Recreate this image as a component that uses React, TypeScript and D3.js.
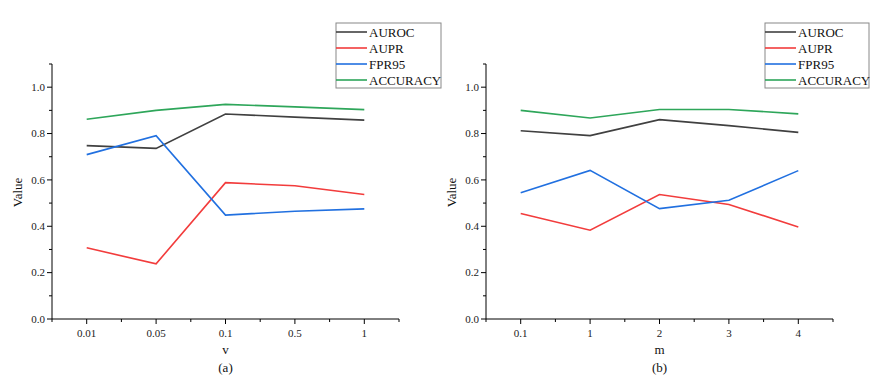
import React from 'react';
import * as d3 from 'd3';

// chart values
const vCategories = ['0.01', '0.05', '0.1', '0.5', '1'];
const vAUROC = [0.748, 0.736, 0.884, 0.871, 0.858];
const vAUPR = [0.307, 0.238, 0.588, 0.575, 0.537];
const vFPR95 = [0.709, 0.791, 0.448, 0.465, 0.475];
const vACCURACY = [0.862, 0.9, 0.926, 0.915, 0.903];

const mCategories = ['0.1', '1', '2', '3', '4'];
const mAUROC = [0.812, 0.791, 0.86, 0.834, 0.805];
const mAUPR = [0.455, 0.383, 0.537, 0.494, 0.397];
const mFPR95 = [0.545, 0.641, 0.476, 0.512, 0.64];
const mACCURACY = [0.9, 0.867, 0.904, 0.904, 0.885];

const seriesNames = ['AUROC', 'AUPR', 'FPR95', 'ACCURACY'];
const seriesColors = ['#404040', '#f23c3c', '#2170e0', '#2ea65a'];
const yTicks = [0, 0.2, 0.4, 0.6, 0.8, 1.0];
const yMinorTicks = [0.1, 0.3, 0.5, 0.7, 0.9, 1.1];

const FONT = '"Liberation Serif", "Times New Roman", serif';

type PanelProps = {
  left: number;
  right: number;
  categories: string[];
  series: number[][];
  xLabel: string;
  caption: string;
  legendX: number;
  legendW: number;
};

const Panel = ({ left, right, categories, series, xLabel, caption, legendX, legendW }: PanelProps) => {
  const top = 64;
  const bottom = 319;

  const x = d3.scaleBand().domain(categories).range([left, right]).paddingInner(0).paddingOuter(0);
  const y = d3.scaleLinear().domain([0, 1.1]).range([bottom, top]);
  const cx = (c: string) => (x(c) ?? 0) + x.bandwidth() / 2;

  const line = d3.line<number>()
    .x((_, i) => cx(categories[i]))
    .y(d => y(d));

  const minorX = d3.range(categories.length + 1).map(i => left + i * x.bandwidth());
  const midX = (left + right) / 2;

  return (
    <g>
      {/* axes */}
      <line x1={left} x2={left} y1={top} y2={bottom} stroke="#000" strokeWidth={1} />
      <line x1={left} x2={right} y1={bottom} y2={bottom} stroke="#000" strokeWidth={1} />

      {yTicks.map(t => (
        <g key={'y' + t}>
          <line x1={left - 5} x2={left} y1={y(t)} y2={y(t)} stroke="#000" />
          <text x={left - 7} y={y(t)} dy="0.35em" textAnchor="end" fontSize={11} fontFamily={FONT} fill="#222">
            {d3.format('.1f')(t)}
          </text>
        </g>
      ))}
      {yMinorTicks.map(t => (
        <line key={'ym' + t} x1={left - 3} x2={left} y1={y(t)} y2={y(t)} stroke="#000" />
      ))}

      {categories.map(c => (
        <g key={'x' + c}>
          <line x1={cx(c)} x2={cx(c)} y1={bottom} y2={bottom + 5} stroke="#000" />
          <text x={cx(c)} y={bottom + 18} textAnchor="middle" fontSize={11} fontFamily={FONT} fill="#222">
            {c}
          </text>
        </g>
      ))}
      {minorX.map((mx, i) => (
        <line key={'xm' + i} x1={mx} x2={mx} y1={bottom} y2={bottom + 3} stroke="#000" />
      ))}

      <text
        transform={`translate(${left - 30},${(top + bottom) / 2 + 1}) rotate(-90)`}
        textAnchor="middle"
        fontSize={13}
        fontFamily={FONT}
        fill="#111"
      >
        Value
      </text>
      <text x={midX} y={354} textAnchor="middle" fontSize={13} fontFamily={FONT} fill="#111">{xLabel}</text>
      <text x={midX} y={372} textAnchor="middle" fontSize={13} fontFamily={FONT} fill="#111">{caption}</text>

      {/* lines */}
      {series.map((s, i) => (
        <path key={seriesNames[i]} d={line(s) ?? ''} fill="none" stroke={seriesColors[i]} strokeWidth={1.6} />
      ))}

      {/* legend */}
      <rect x={legendX} y={23} width={legendW} height={65} fill="#fff" stroke="#888" strokeWidth={1} />
      {seriesNames.map((n, i) => (
        <g key={'lg' + n}>
          <line x1={legendX} x2={legendX + 31} y1={32 + i * 16} y2={32 + i * 16} stroke={seriesColors[i]} strokeWidth={1.6} />
          <text x={legendX + 33} y={32 + i * 16} dy="0.35em" fontSize={13} fontFamily={FONT} fill="#111">{n}</text>
        </g>
      ))}
    </g>
  );
};

const App = () => {
  return (
    <svg
      width={870}
      height={381}
      style={{ position: 'absolute', left: 0, top: 0, display: 'block', background: '#fff' }}
    >
      <Panel
        left={52}
        right={399}
        categories={vCategories}
        series={[vAUROC, vAUPR, vFPR95, vACCURACY]}
        xLabel="v"
        caption="(a)"
        legendX={336}
        legendW={105}
      />
      <Panel
        left={486}
        right={833}
        categories={mCategories}
        series={[mAUROC, mAUPR, mFPR95, mACCURACY]}
        xLabel="m"
        caption="(b)"
        legendX={765}
        legendW={104}
      />
    </svg>
  );
};

export default App;
